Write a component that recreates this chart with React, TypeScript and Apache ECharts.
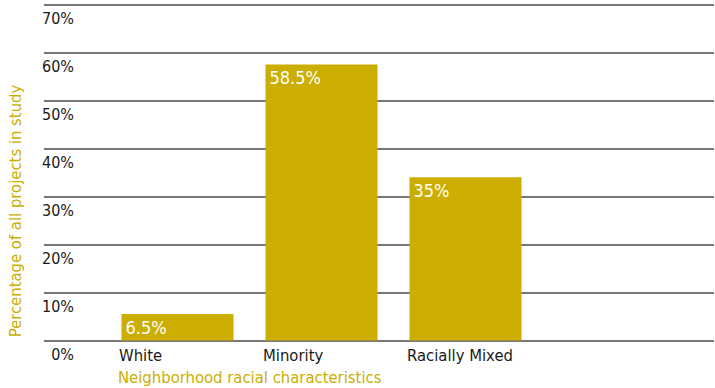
import React, { useEffect, useRef } from "react";
import * as echarts from "echarts";

const categories = ["White", "Minority", "Racially Mixed"];
const values = [6.5, 58.5, 35];
const valueLabels = ["6.5%", "58.5%", "35%"];
const yTicks = [0, 10, 20, 30, 40, 50, 60, 70];
const yTitle = "Percentage of all projects in study";
const xTitle = "Neighborhood racial characteristics";

const FONT = '"Liberation Sans Narrow", "DejaVu Sans Condensed", "Arial Narrow", "Roboto", sans-serif';
const GOLD = "#CBAE00";

export default function App() {
  const ref = useRef<HTMLDivElement>(null);
  useEffect(() => {
    if (!ref.current) return;
    const chart = echarts.init(ref.current, undefined, { renderer: "svg" });
    const top = 4.5;
    const bottom = 388 - 340.5;
    chart.setOption({
      animation: false,
      textStyle: { fontFamily: FONT },
      title: {
        text: xTitle,
        left: 118,
        top: 368,
        padding: 0,
        textStyle: { color: GOLD, fontSize: 16.5, fontWeight: "normal", fontFamily: FONT, lineHeight: 18 },
      },
      graphic: [
        {
          type: "text",
          x: 15,
          y: 211,
          rotation: Math.PI / 2,
          style: {
            text: yTitle,
            fill: GOLD,
            font: `16.5px ${FONT}`,
            textAlign: "center",
            textVerticalAlign: "middle",
          },
        },
      ],
      grid: [
        { left: 44, right: 1, top, bottom },
        { left: 105.5, width: 432, top, bottom },
        { left: 119, width: 288, top, bottom },
      ],
      xAxis: [
        { gridIndex: 0, type: "value", show: false, min: 0, max: 1 },
        {
          gridIndex: 1,
          type: "category",
          data: categories,
          axisLine: { show: false },
          axisTick: { show: false },
          axisLabel: { show: false },
        },
        {
          gridIndex: 2,
          type: "category",
          data: categories,
          boundaryGap: false,
          axisLine: { show: false },
          axisTick: { show: false },
          axisLabel: {
            align: "left",
            margin: 6,
            color: "#1a1a1a",
            fontSize: 16.5,
            fontFamily: FONT,
            interval: 0,
          },
        },
      ],
      yAxis: [
        {
          gridIndex: 0,
          type: "value",
          min: 0,
          max: 70,
          interval: 10,
          axisLine: { show: false },
          axisTick: { show: false },
          splitLine: { show: true, lineStyle: { color: "#4a4a4a", width: 1.5 } },
          axisLabel: {
            inside: true,
            align: "right",
            margin: 30,
            verticalAlign: "top",
            padding: [6, 0, 0, 0],
            color: "#1a1a1a",
            fontSize: 16,
            fontFamily: FONT,
            showMinLabel: true,
            showMaxLabel: true,
            formatter: (v: number) => (yTicks.includes(v) ? `${v}%` : ""),
          },
        },
        { gridIndex: 1, type: "value", min: 1, max: 71, show: false },
        { gridIndex: 2, type: "value", min: 0, max: 70, show: false },
      ],
      series: [
        {
          type: "bar",
          xAxisIndex: 1,
          yAxisIndex: 1,
          data: values,
          barWidth: 112,
          itemStyle: { color: GOLD },
          label: {
            show: true,
            position: "insideTopLeft",
            distance: 4,
            color: "#ffffff",
            fontSize: 18,
            fontFamily: FONT,
            formatter: (p: any) => valueLabels[p.dataIndex],
          },
        },
      ],
    });
    return () => chart.dispose();
  }, []);
  return <div ref={ref} style={{ width: 715, height: 388, position: "absolute", left: 0, top: 0 }} />;
}
